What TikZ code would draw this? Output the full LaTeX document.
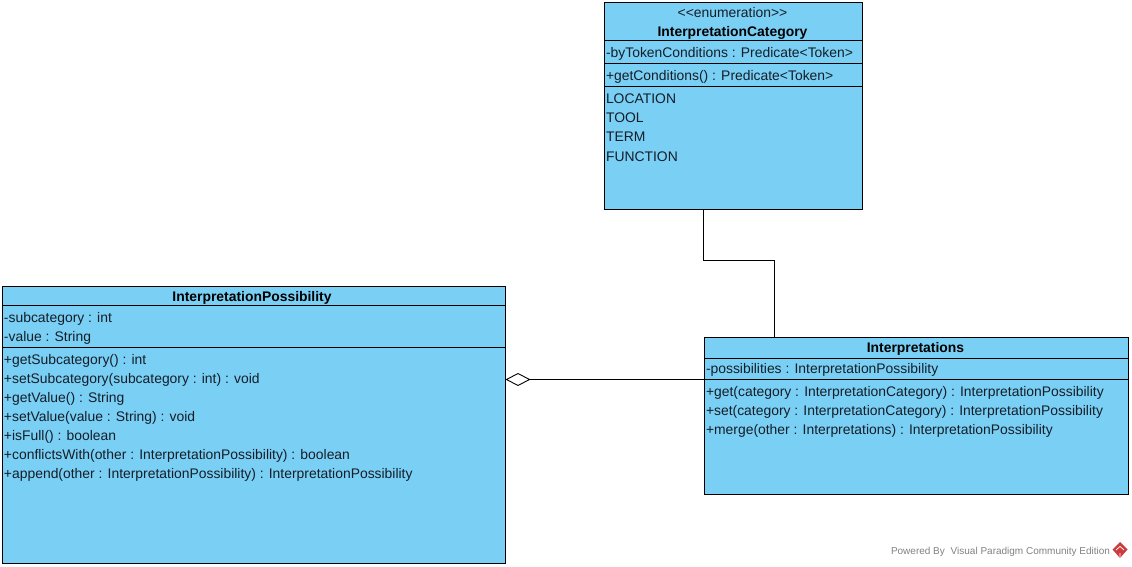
\documentclass[tikz,border=0pt]{standalone}
\usepackage{fontspec}
\setmainfont{Liberation Sans}
\usetikzlibrary{arrows.meta}
\definecolor{boxblue}{RGB}{122,207,245}
\definecolor{inktext}{RGB}{20,30,40}
\definecolor{markgray}{RGB}{130,130,130}
\definecolor{markred}{RGB}{205,60,60}
\tikzset{
  x=1pt,y=-1pt,
  classbox/.style={draw=black,fill=boxblue,line width=1pt,anchor=north west,inner sep=0pt,outer sep=0pt},
  member/.style={anchor=base west,inner sep=0pt,outer sep=0pt,text=inktext,font=\fontsize{13.9}{15}\selectfont},
  title/.style={anchor=base,inner sep=0pt,outer sep=0pt,text=black,font=\fontsize{13.9}{15}\selectfont\bfseries},
  stereo/.style={anchor=base,inner sep=0pt,outer sep=0pt,text=inktext,font=\fontsize{13.9}{15}\selectfont},
  rule/.style={line width=1pt,draw=black},
  link/.style={line width=1pt,draw=black},
  aggregation/.style={link,{Diamond[open,fill=white,length=25pt,width=13pt,line width=0.9pt]}-},
  credit/.style={anchor=base west,inner sep=0pt,outer sep=0pt,text=markgray,font=\fontsize{10}{11}\selectfont},
}
\begin{document}
\begin{tikzpicture}
\useasboundingbox (0,0) rectangle (1132,567);
\fill[white] (0,0) rectangle (1132,567);

% Boxes
\node[classbox,minimum width=258pt,minimum height=207pt] (cat) at (604.5,2.5) {};
\node[classbox,minimum width=503pt,minimum height=277pt] (poss) at (2.5,286.5) {};
\node[classbox,minimum width=424pt,minimum height=157pt] (interp) at (704.5,337.5) {};

% Dividers
\draw[rule] (cat.west |- 0,40.5) -- (cat.east |- 0,40.5);
\draw[rule] (cat.west |- 0,63.5) -- (cat.east |- 0,63.5);
\draw[rule] (cat.west |- 0,86.5) -- (cat.east |- 0,86.5);
\draw[rule] (poss.west |- 0,305.5) -- (poss.east |- 0,305.5);
\draw[rule] (poss.west |- 0,347.5) -- (poss.east |- 0,347.5);
\draw[rule] (interp.west |- 0,358.5) -- (interp.east |- 0,358.5);
\draw[rule] (interp.west |- 0,379.5) -- (interp.east |- 0,379.5);

% InterpretationCategory
\node[stereo] (catS) at (732.5,17.5) {<{}<enumeration>{}>};
\node[title] (catT) at (732.5,37) {InterpretationCategory};
\node[member] (cat1) at (606,58) {-byTokenConditions : Predicate<Token>};
\node[member] (cat2) at (606,81) {+getConditions() : Predicate<Token>};
\node[member] (cat3) at (606,104) {LOCATION};
\node[member] (cat4) at (606,123) {TOOL};
\node[member] (cat5) at (606,142) {TERM};
\node[member] (cat6) at (606,161) {FUNCTION};

% InterpretationPossibility
\node[title] (possT) at (252,301) {InterpretationPossibility};
\node[member] (poss1) at (4,322) {-subcategory : int};
\node[member] (poss2) at (4,341) {-value : String};
\node[member] (poss3) at (4,364) {+getSubcategory() : int};
\node[member] (poss4) at (4,383) {+setSubcategory(subcategory : int) : void};
\node[member] (poss5) at (4,402) {+getValue() : String};
\node[member] (poss6) at (4,421) {+setValue(value : String) : void};
\node[member] (poss7) at (4,440) {+isFull() : boolean};
\node[member] (poss8) at (4,459) {+conflictsWith(other : InterpretationPossibility) : boolean};
\node[member] (poss9) at (4,478) {+append(other : InterpretationPossibility) : InterpretationPossibility};

% Interpretations
\node[title] (interpT) at (915.5,352) {Interpretations};
\node[member] (int1) at (706,373) {-possibilities : InterpretationPossibility};
\node[member] (int2) at (706,396) {+get(category : InterpretationCategory) : InterpretationPossibility};
\node[member] (int3) at (706,415) {+set(category : InterpretationCategory) : InterpretationPossibility};
\node[member] (int4) at (706,434) {+merge(other : Interpretations) : InterpretationPossibility};

% Connectors
\coordinate (bendA) at (703.5,260.5);
\coordinate (bendB) at (774.5,260.5);
\draw[link] (cat.south -| bendA) -- (bendA) -- (bendB) -- (interp.north -| bendB);
\coordinate (aggY) at (600,379.5);
\draw[aggregation] (poss.east |- aggY) -- (interp.west |- aggY);

% Credit
\node[credit] (credit) at (891,554) {Powered By\hspace{3pt} Visual Paradigm Community Edition};
\fill[markred] (1120,542) -- (1127.5,549.5) -- (1120,558) -- (1112.5,549.5) -- cycle;
\draw[white,line width=0.7pt] (1116,550) -- (1120,546.5) -- (1124,550) (1120,557.5) -- (1120,553);
\end{tikzpicture}
\end{document}
